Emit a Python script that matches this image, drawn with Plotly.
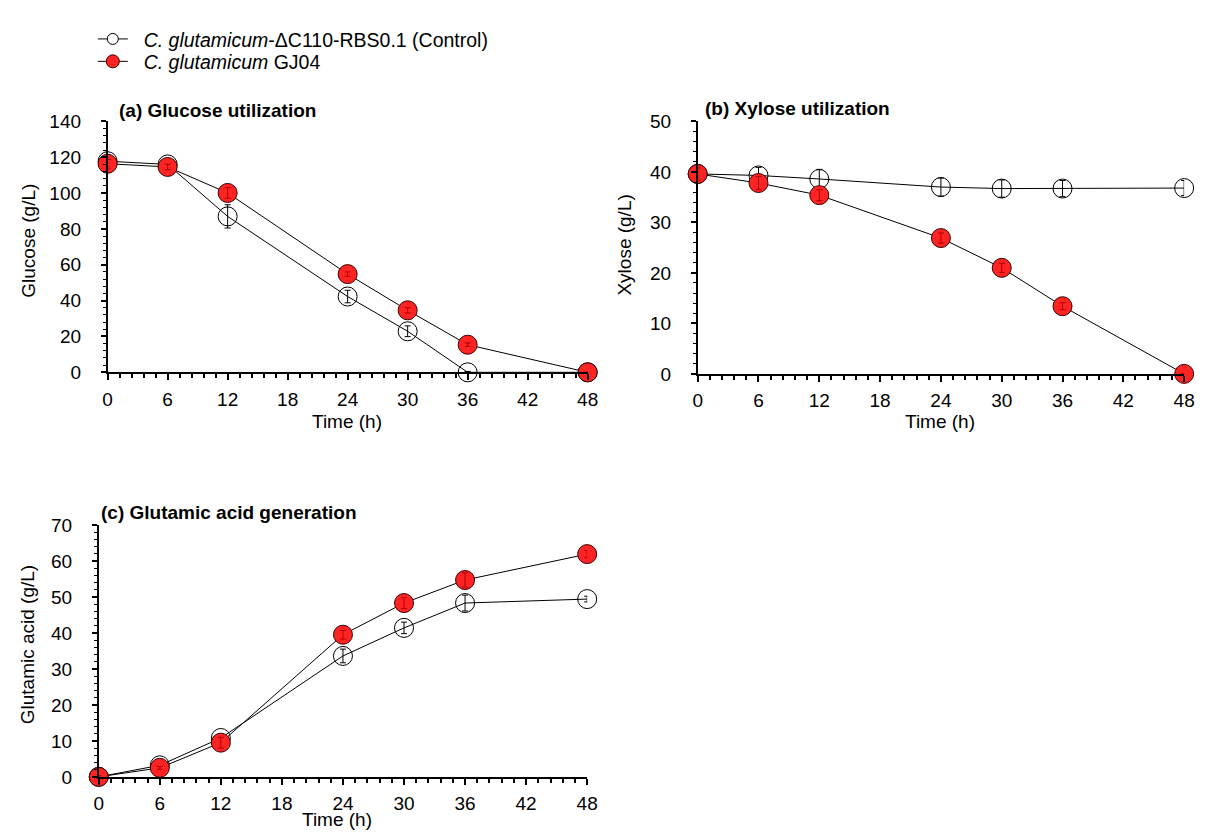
import plotly.graph_objects as go

# Sampling times (h)
time_h = [0, 6, 12, 24, 30, 36, 48]
time_ticks = [0, 6, 12, 18, 24, 30, 36, 42, 48]

# (a) Glucose (g/L)
glucose_ctrl = [117.8, 116.0, 87.0, 42.3, 22.9, 0.0, 0.0]
glucose_ctrl_sd = [1.5, 1.0, 6.5, 3.5, 3.0, 0.5, 0.0]
glucose_gj04 = [116.4, 114.6, 100.1, 54.8, 34.6, 15.4, 0.0]
glucose_gj04_sd = [2.5, 1.5, 3.0, 1.2, 1.5, 1.0, 0.0]

# (b) Xylose (g/L)
xylose_ctrl = [39.6, 39.3, 38.6, 37.0, 36.7, 36.7, 36.8]
xylose_ctrl_sd = [1.0, 1.6, 1.9, 1.8, 1.7, 1.6, 1.5]
xylose_gj04 = [39.6, 37.8, 35.4, 26.9, 21.0, 13.4, 0.0]
xylose_gj04_sd = [1.2, 1.3, 1.1, 1.0, 0.9, 0.7, 0.0]

# (c) Glutamic acid (g/L)
glu_ctrl = [0.0, 3.2, 10.8, 33.6, 41.4, 48.3, 49.4]
glu_ctrl_sd = [0.3, 0.5, 1.0, 1.9, 1.6, 2.2, 0.8]
glu_gj04 = [0.0, 2.5, 9.5, 39.5, 48.3, 54.7, 61.9]
glu_gj04_sd = [0.3, 0.4, 1.5, 1.2, 1.5, 2.0, 1.0]

ctrl_name = "&nbsp;&nbsp;<i>C. glutamicum</i>-ΔC110-RBS0.1 (Control)"
gj04_name = "&nbsp;&nbsp;<i>C. glutamicum</i> GJ04"

W, H = 1206, 832
FONT = "Liberation Sans, Arial, sans-serif"
RED = "#ff2424"
RED_DARK = "#b00000"
MARKER_SIZE = 19


def px(x):
    return x / W


def py(y):
    return 1 - y / H


fig = go.Figure()

panels = [
    # (axis suffix, ctrl, ctrl sd, gj04, gj04 sd)
    ("", glucose_ctrl, glucose_ctrl_sd, glucose_gj04, glucose_gj04_sd),
    ("2", xylose_ctrl, xylose_ctrl_sd, xylose_gj04, xylose_gj04_sd),
    ("3", glu_ctrl, glu_ctrl_sd, glu_gj04, glu_gj04_sd),
]

for suf, yc, ec, yg, eg in panels:
    xa, ya = "x" + suf, "y" + suf
    fig.add_trace(go.Scatter(
        x=time_h, y=yc, xaxis=xa, yaxis=ya, mode="lines+markers",
        showlegend=False,
        line=dict(color="black", width=1),
        marker=dict(symbol="circle", size=MARKER_SIZE, color="rgba(0,0,0,0)",
                    line=dict(color="black", width=1)),
        error_y=dict(type="data", array=ec, color="black", thickness=1, width=3),
        cliponaxis=False, hoverinfo="x+y",
    ))
    fig.add_trace(go.Scatter(
        x=time_h, y=yg, xaxis=xa, yaxis=ya, mode="lines+markers",
        showlegend=False,
        line=dict(color="black", width=1),
        marker=dict(symbol="circle", size=MARKER_SIZE, color=RED,
                    line=dict(color="#3a0000", width=1)),
        cliponaxis=False, hoverinfo="x+y",
    ))
    # error bars of GJ04 drawn above the filled markers
    fig.add_trace(go.Scatter(
        x=time_h, y=yg, xaxis=xa, yaxis=ya, mode="markers",
        showlegend=False, marker=dict(size=MARKER_SIZE, opacity=0),
        error_y=dict(type="data", array=eg, color=RED_DARK, thickness=1, width=3),
        cliponaxis=False, hoverinfo="skip",
    ))

# legend keys (one legend per strain)
fig.add_trace(go.Scatter(
    x=[None], y=[None], mode="lines+markers", name=ctrl_name, legend="legend",
    line=dict(color="black", width=1),
    marker=dict(symbol="circle", size=11, color="white",
                line=dict(color="black", width=1)),
))
fig.add_trace(go.Scatter(
    x=[None], y=[None], mode="lines+markers", name=gj04_name, legend="legend2",
    line=dict(color="black", width=1),
    marker=dict(symbol="circle", size=13, color=RED,
                line=dict(color="#3a0000", width=1)),
))


def xaxis_style(left, right, anchor):
    return dict(
        domain=[px(left), px(right)], anchor=anchor, range=[0, 48],
        tickvals=time_ticks, ticks="outside", ticklen=6, tickwidth=1.5,
        tickcolor="black", showline=True, linecolor="black", linewidth=1.5,
        showgrid=False, zeroline=False, ticklabelstandoff=3,
        tickfont=dict(family=FONT, size=19, color="black"),
        minor=dict(dtick=1.2, tick0=0, ticks="outside", ticklen=4,
                   tickwidth=1.5, tickcolor="black", showgrid=False),
    )


def yaxis_style(top, bottom, anchor, ymax, dtick, minor):
    return dict(
        domain=[py(bottom), py(top)], anchor=anchor, range=[0, ymax],
        dtick=dtick, tick0=0, ticks="outside", ticklen=5, tickwidth=1.5,
        tickcolor="black", showline=True, linecolor="black", linewidth=1.5,
        showgrid=False, zeroline=False, ticklabelstandoff=16,
        tickfont=dict(family=FONT, size=19, color="black"),
        minor=dict(dtick=minor, tick0=0, ticks="outside", ticklen=3,
                   tickwidth=1.2, tickcolor="black", showgrid=False),
    )


legend_common = dict(
    xanchor="left", yanchor="top", bgcolor="rgba(0,0,0,0)", borderwidth=0,
    font=dict(family=FONT, size=19.5, color="black"), itemsizing="trace",
)

fig.update_layout(
    width=W, height=H,
    margin=dict(l=0, r=0, t=0, b=0),
    paper_bgcolor="white", plot_bgcolor="white",
    font=dict(family=FONT, size=19, color="black"),
    xaxis=xaxis_style(104, 590.5, "y"),
    yaxis=yaxis_style(114.3, 371.7, "x", 140, 20, 4),
    xaxis2=xaxis_style(702, 1195, "y2"),
    yaxis2=yaxis_style(114.3, 373.3, "x2", 50, 10, 2),
    xaxis3=xaxis_style(95, 590, "y3"),
    yaxis3=yaxis_style(528.3, 786.7, "x3", 70, 10, 2),
    showlegend=True,
    legend=dict(x=px(89), y=py(10), **legend_common),
    legend2=dict(x=px(89), y=py(33), **legend_common),
)

annotations = [
    # panel titles
    dict(text="<b>(a) Glucose utilization</b>", x=113, y=103, xanchor="left", angle=0),
    dict(text="<b>(b) Xylose utilization</b>", x=707, y=101, xanchor="left", angle=0),
    dict(text="<b>(c) Glutamic acid generation</b>", x=95, y=515, xanchor="left", angle=0),
    # axis titles
    dict(text="Glucose (g/L)", x=23, y=237, xanchor="center", angle=-90),
    dict(text="Xylose (g/L)", x=628, y=241, xanchor="center", angle=-90),
    dict(text="Glutamic acid (g/L)", x=23, y=651, xanchor="center", angle=-90),
    dict(text="Time (h)", x=347, y=422, xanchor="center", angle=0),
    dict(text="Time (h)", x=948, y=422, xanchor="center", angle=0),
    dict(text="Time (h)", x=336, y=830, xanchor="center", angle=0),
]
for a in annotations:
    fig.add_annotation(
        text=a["text"], x=px(a["x"]), y=py(a["y"]), xref="paper", yref="paper",
        xanchor=a["xanchor"], yanchor="middle", textangle=a["angle"],
        showarrow=False, font=dict(family=FONT, size=19, color="black"),
    )

fig.write_html("out.html")
